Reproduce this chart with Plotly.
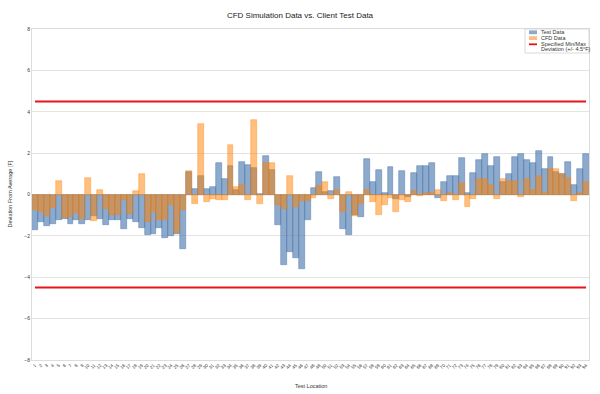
import plotly.graph_objects as go

locations = [str(i) for i in range(1, 95)]

test_data = [
    -1.73, -1.35, -1.52, -1.43, -1.24, -1.16, -1.43, -1.24, -1.43, -1.24,
    -1.03, -1.16, -1.48, -1.21, -1.24, -1.65, -1.16, -1.32, -1.61, -1.97,
    -1.89, -1.61, -2.08, -2.02, -1.92, -2.65, 1.10, 0.26, 0.89, 0.26,
    0.34, 1.50, 0.73, 1.39, 0.20, 1.56, 1.42, 1.26, 0.03, 1.85,
    1.18, -1.48, -3.42, -2.77, -3.06, -3.61, -1.21, 0.32, 1.08, 0.13,
    0.18, 0.84, -1.69, -1.94, -1.00, -1.08, 1.71, 0.60, 1.18, 0.05,
    1.34, -0.20, 1.16, -0.10, 1.06, 1.40, 1.40, 1.52, -0.19, 0.60,
    0.89, 0.89, 1.77, 0.08, 1.02, 1.66, 1.94, 1.37, 1.79, 0.60,
    0.98, 1.79, 1.98, 1.69, 1.50, 2.11, 1.21, 1.82, 1.10, 0.98,
    1.55, 0.44, 1.21, 1.98,
]

cfd_data = [
    -0.76, -0.84, -1.03, -0.65, 0.65, -1.12, -1.11, -0.89, -1.16, 0.78,
    -1.27, 0.21, -0.68, -1.00, -1.00, -0.27, -0.92, 0.16, 0.98, -1.32,
    -0.84, -1.21, -1.21, -0.52, -1.84, -0.76, 1.13, -0.44, 3.39, -0.35,
    -0.20, -0.27, -0.27, 2.39, 0.34, 0.45, -0.27, 3.60, -0.48, 1.53,
    1.53, -0.50, -0.68, 0.89, -0.60, -0.31, -0.31, -0.15, 0.40, 0.60,
    -0.23, 0.21, -0.84, 0.10, -1.05, -0.44, 0.21, -0.35, -1.00, -0.53,
    -0.15, -0.84, -0.27, -0.35, 0.16, -0.05, 0.08, 0.05, 0.24, -0.30,
    0.05, -0.27, 0.55, -0.62, -0.22, 0.73, 0.73, 0.45, -0.24, 0.73,
    0.65, 0.65, -0.11, 0.73, 0.21, 0.89, 0.06, 1.23, 1.21, 1.00,
    0.82, -0.31, 0.05, 0.61,
]

limit_value = 4.5
y_ticks = [-8, -6, -4, -2, 0, 2, 4, 6, 8]

FONT = "Arial, Liberation Sans, sans-serif"
BLUE = "rgba(65,113,170,0.6)"
BLUE_EDGE = "rgba(65,113,170,0.75)"
ORANGE = "rgba(255,128,0,0.5)"
ORANGE_EDGE = "rgba(255,128,0,0.6)"
RED = "#E8141A"

W, H = 600, 394
L, R, T, B = 32, 11, 29, 34
PW, PH = W - L - R, H - T - B


def px_x(px):
    return (px - L) / PW


def px_y(py):
    return (H - B - py) / PH


fig = go.Figure()
fig.add_trace(go.Bar(x=locations, y=test_data, name="Test Data",
                     marker=dict(color=BLUE, line=dict(color=BLUE_EDGE, width=0.6)),
                     showlegend=False))
fig.add_trace(go.Bar(x=locations, y=cfd_data, name="CFD Data",
                     marker=dict(color=ORANGE, line=dict(color=ORANGE_EDGE, width=0.6)),
                     showlegend=False))
for v in (limit_value, -limit_value):
    fig.add_trace(go.Scatter(x=[locations[0], locations[-1]], y=[v, v], mode="lines",
                             line=dict(color=RED, width=2), showlegend=False,
                             hoverinfo="skip"))

shapes = []
annotations = []
# manual legend
lx0, lx1, ly0, ly1 = 525, 589, 29, 53
shapes.append(dict(type="rect", xref="paper", yref="paper",
                   x0=px_x(lx0), x1=px_x(lx1), y0=px_y(ly1), y1=px_y(ly0),
                   line=dict(color="#d0d0d0", width=0.8), fillcolor="white", layer="above"))
shapes.append(dict(type="rect", xref="paper", yref="paper",
                   x0=px_x(529), x1=px_x(537), y0=px_y(34.2), y1=px_y(30.4),
                   line=dict(width=0), fillcolor="rgb(141,170,204)", layer="above"))
shapes.append(dict(type="rect", xref="paper", yref="paper",
                   x0=px_x(529), x1=px_x(537), y0=px_y(40), y1=px_y(36.2),
                   line=dict(width=0), fillcolor="rgb(255,190,128)", layer="above"))
shapes.append(dict(type="line", xref="paper", yref="paper",
                   x0=px_x(529), x1=px_x(537), y0=px_y(44.3), y1=px_y(44.3),
                   line=dict(color=RED, width=1.8), layer="above"))
for txt, yy in [("Test Data", 32.3), ("CFD Data", 38.1), ("Specified Min/Max", 44.0),
                ("Deviation (+/- 4.5°F)", 49.4)]:
    annotations.append(dict(text=txt, xref="paper", yref="paper", x=px_x(538.5), y=px_y(yy),
                            xanchor="left", yanchor="middle", showarrow=False,
                            font=dict(family=FONT, size=5.5, color="#333")))

annotations.append(dict(text="Test Location", xref="paper", yref="paper",
                        x=0.5, y=px_y(385.5), xanchor="center", yanchor="middle",
                        showarrow=False, font=dict(family=FONT, size=5.5, color="#333")))
annotations.append(dict(text="Deviation From Average [F]", xref="paper", yref="paper",
                        x=px_x(9.5), y=px_y(194), xanchor="center", yanchor="middle",
                        textangle=-90, showarrow=False,
                        font=dict(family=FONT, size=5.5, color="#333")))

fig.update_layout(
    width=W, height=H,
    margin=dict(l=L, r=R, t=T, b=B),
    paper_bgcolor="white", plot_bgcolor="white",
    barmode="overlay", bargap=0,
    title=dict(text="CFD Simulation Data vs. Client Test Data", x=0.5, xanchor="center",
               y=1 - 15.5 / H, yanchor="middle",
               font=dict(family=FONT, size=8, color="#222")),
    font=dict(family=FONT, color="#444"),
    shapes=shapes, annotations=annotations,
    xaxis=dict(type="category", range=[-0.5, len(locations) - 0.5], tickangle=-45,
               tickmode="array", tickvals=locations, ticktext=locations,
               tickfont=dict(size=4.5, color="#333"), showgrid=False, showline=True,
               mirror=True, linecolor="#dcdcdc", linewidth=1, ticks=""),
    yaxis=dict(range=[-8, 8], tickvals=y_ticks, showgrid=True, gridcolor="#e3e3e3",
               gridwidth=1, zeroline=False, showline=True, mirror=True,
               linecolor="#dcdcdc", linewidth=1, tickfont=dict(size=5, color="#333"),
               ticks=""),
)

fig.write_html("out.html")
